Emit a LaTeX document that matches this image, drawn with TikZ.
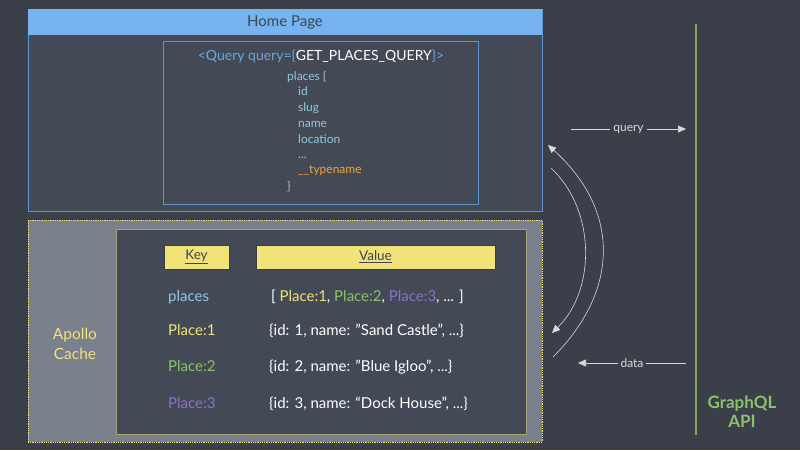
\documentclass[tikz,border=0pt]{standalone}
\usepackage{fontspec}
\setmainfont{Lato}
\usetikzlibrary{arrows.meta}

\definecolor{bg}{HTML}{3A3F4A}
\definecolor{panelgrey}{HTML}{434A55}
\definecolor{cachegrey}{HTML}{7B808D}
\definecolor{homeblue}{HTML}{5C95CF}
\definecolor{headblue}{HTML}{76B3EF}
\definecolor{headtext}{HTML}{3D4652}
\definecolor{treeblue}{HTML}{93C6E6}
\definecolor{queryblue}{HTML}{6AA6DE}
\definecolor{typeorange}{HTML}{F0A33A}
\definecolor{cacheyellow}{HTML}{F2E27A}
\definecolor{placegreen}{HTML}{8CC26C}
\definecolor{placepurple}{HTML}{8A70C6}
\definecolor{apiline}{HTML}{84A85E}
\definecolor{innerframe}{HTML}{A8A47A}
\definecolor{flowgrey}{HTML}{D9D9D9}

\begin{document}
\begin{tikzpicture}[x=1pt,y=-1pt,>={Triangle[length=8pt,width=7pt]}]
    \tikzstyle{panel}=[anchor=north west,inner sep=0pt,outer sep=0pt]
    \tikzstyle{tree}=[anchor=west,inner sep=0pt,text height=9pt,text depth=3pt,text=treeblue,font=\fontsize{12}{14}\selectfont]
    \tikzstyle{head}=[panel,fill=cacheyellow,draw=bg,line width=0.4pt,text=headtext,font=\fontsize{13.5}{15}\selectfont]
    \tikzstyle{row}=[anchor=west,inner sep=0pt,text height=11pt,text depth=3pt,font=\fontsize{15}{17}\selectfont]
    \tikzstyle{flow}=[draw=flowgrey,line width=0.6pt]
    \tikzstyle{annot}=[fill=bg,inner sep=3pt,text=flowgrey,font=\fontsize{12}{14}\selectfont]

    % Background
    \fill[bg] (0,0) rectangle (800,450);
    \useasboundingbox (0,0) rectangle (800,450);

    % Draw the home page panel.
    \node[panel,fill=panelgrey,draw=homeblue,line width=1pt,minimum width=514pt,minimum height=202pt] (home) at (28,9) {};
    \node[panel,fill=headblue,minimum width=514pt,minimum height=26pt,text=headtext,font=\fontsize{15}{17}\selectfont] (home-head) at (28,9) {Home Page};
    \node[panel,draw=homeblue,line width=0.8pt,minimum width=315pt,minimum height=163pt] (query-box) at (163,41) {};

    % The query text.
    \node[inner sep=0pt,font=\fontsize{14}{16}\selectfont,text=queryblue] (query-line) at (321,56)
        {<Query query=\{\textcolor{white}{GET\_PLACES\_QUERY}\}>};
    \node[tree] (F-0) at (287,77) {places \{};
    \foreach \name/\y/\txt in {1/92/id,2/108/slug,3/124/name,4/140/location}
        \node[tree] (F-\name) at (298,\y) {\txt};
    \node[tree] (F-5) at (298,155) {...};
    \node[tree,text=typeorange] (F-6) at (298,170) {\_\_typename};
    \node[tree] (F-7) at (287,187) {\}};

    % Draw the cache panel.
    \node[panel,fill=cachegrey,draw=cacheyellow,densely dotted,line width=0.8pt,minimum width=514pt,minimum height=222pt] (cache) at (28,220) {};
    \node[panel,fill=panelgrey,draw=innerframe,line width=0.8pt,minimum width=410pt,minimum height=205pt] (cache-inner) at (116,229) {};
    \node[align=center,text=cacheyellow,font=\fontsize{15.5}{20}\selectfont] (cache-name) at (75,344) {Apollo\\Cache};

    % Table heads
    \node[head,minimum width=65pt,minimum height=24pt] (key-head) at (164,245) {\underline{Key}};
    \node[head,minimum width=239pt,minimum height=24pt] (value-head) at (256,245) {\underline{Value}};

    % Table rows
    \node[row,text=treeblue] (K-0) at (168,297) {places};
    \node[row,text=cacheyellow] (K-1) at (168,331) {Place:1};
    \node[row,text=placegreen] (K-2) at (168,367) {Place:2};
    \node[row,text=placepurple] (K-3) at (168,404) {Place:3};
    \node[row,text=white] (V-0) at (271,297)
        {[ \textcolor{cacheyellow}{Place:1}, \textcolor{placegreen}{Place:2}, \textcolor{placepurple}{Place:3}, ... ]};
    \node[row,text=white] (V-1) at (269,331) {\{id: 1, name: \char34 Sand Castle”, ...\}};
    \node[row,text=white] (V-2) at (269,367) {\{id: 2, name: \char34 Blue Igloo”, ...\}};
    \node[row,text=white] (V-3) at (269,404) {\{id: 3, name: “Dock House”, ...\}};

    % Draw the API side.
    \coordinate (api-top) at (696,24);
    \coordinate (api-bot) at (696,435);
    \draw[apiline,line width=1.2pt] (api-top) -- (api-bot);
    \node[align=center,text=placegreen,font=\bfseries\fontsize{17}{19}\selectfont] (api) at (742,412) {GraphQL\\API};

    % Requests and answers
    \coordinate (Q-from) at (571,129);
    \coordinate (Q-to) at (686,129);
    \coordinate (D-from) at (686,363);
    \coordinate (D-to) at (578,363);
    \draw[flow,->] (Q-from) -- node[annot] {query} (Q-to);
    \draw[flow,->] (D-from) -- node[annot] {data} (D-to);

    % Cache lookups
    \coordinate (R-from) at (553,357);
    \coordinate (R-to) at (548,145);
    \coordinate (W-from) at (551,168);
    \coordinate (W-to) at (552,333);
    \draw[flow,->] (R-from) .. controls (620,290) and (620,210) .. (R-to);
    \draw[flow,->] (W-from) .. controls (596,210) and (596,290) .. (W-to);
\end{tikzpicture}
\end{document}
